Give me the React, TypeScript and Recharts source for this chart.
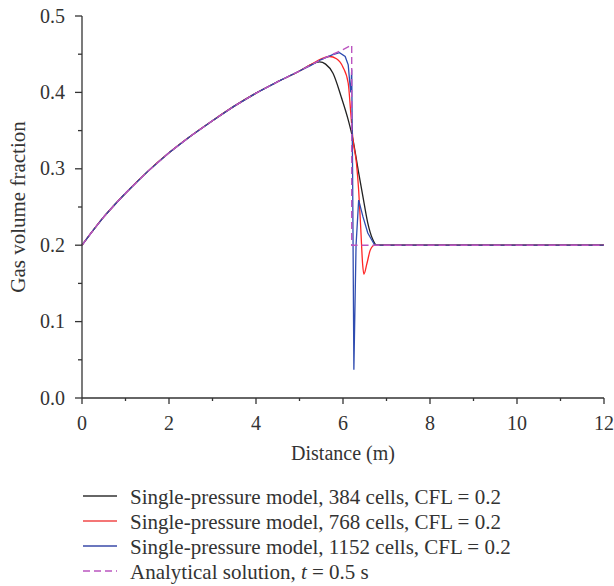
import React from "react";
import { LineChart, Line, XAxis, YAxis } from "recharts";

// shared rising part (all curves coincide up to x ~ 5)
const risingX = [0, 0.25, 0.5, 0.75, 1, 1.5, 2, 2.5, 3, 3.5, 4, 4.5, 5];
const risingY = [0.2, 0.219, 0.237, 0.253, 0.268, 0.296, 0.321, 0.343, 0.363, 0.382, 0.399, 0.414, 0.428];

// 384 cells
const blackX = [5.25, 5.46, 5.6, 5.77, 5.96, 6.12, 6.23, 6.35, 6.46, 6.57, 6.68, 6.77, 7, 12];
const blackY = [0.436, 0.44, 0.437, 0.425, 0.394, 0.364, 0.338, 0.298, 0.263, 0.229, 0.208, 0.2, 0.2, 0.2];

// 768 cells
const redX = [5.25, 5.5, 5.69, 5.85, 6.0, 6.12, 6.18, 6.23, 6.31, 6.36, 6.41, 6.45, 6.48, 6.55, 6.63, 6.73, 7, 12];
const redY = [0.436, 0.444, 0.447, 0.444, 0.433, 0.412, 0.372, 0.338, 0.307, 0.272, 0.22, 0.176, 0.162, 0.176, 0.194, 0.2, 0.2, 0.2];

// 1152 cells
const blueX = [5.25, 5.5, 5.75, 5.92, 6.05, 6.12, 6.16, 6.18, 6.2, 6.22, 6.25, 6.3, 6.36, 6.46, 6.57, 6.73, 7, 12];
const blueY = [0.435, 0.443, 0.449, 0.452, 0.447, 0.436, 0.41, 0.4, 0.43, 0.3, 0.037, 0.2, 0.259, 0.237, 0.216, 0.2, 0.2, 0.2];

// analytical solution, t = 0.5 s
const exactX = [5.5, 6, 6.2, 6.2, 12];
const exactY = [0.443, 0.456, 0.462, 0.2, 0.2];

const xTicks = [0, 1, 2, 3, 4, 5, 6, 7, 8, 9, 10, 11, 12];
const yTicks = [0, 0.05, 0.1, 0.15, 0.2, 0.25, 0.3, 0.35, 0.4, 0.45, 0.5];

const legendLabels = [
  "Single-pressure model, 384 cells, CFL = 0.2",
  "Single-pressure model, 768 cells, CFL = 0.2",
  "Single-pressure model, 1152 cells, CFL = 0.2",
];

const toPoints = (xs: number[], ys: number[]) => xs.map((x, i) => ({ x, y: ys[i] }));

const rising = toPoints(risingX, risingY);
const black = [...rising, ...toPoints(blackX, blackY)];
const red = [...rising, ...toPoints(redX, redY)];
const blue = [...rising, ...toPoints(blueX, blueY)];
const exact = [...rising, ...toPoints(exactX, exactY)];

const FONT = "Liberation Serif, Times New Roman, Tinos, DejaVu Serif, serif";
const AXIS = "#333";

function XTick(props: any) {
  const { x, y, payload } = props;
  const major = payload.value % 2 === 0;
  return (
    <g>
      <line x1={x} y1={y} x2={x} y2={y + (major ? 6 : 3)} stroke={AXIS} strokeWidth={1.3} />
      {major && (
        <text x={x} y={y + 32} textAnchor="middle" fontFamily={FONT} fontSize={20} fill={AXIS}>
          {payload.value}
        </text>
      )}
    </g>
  );
}

function YTick(props: any) {
  const { x, y, payload } = props;
  const major = Math.round(payload.value * 100) % 10 === 0;
  return (
    <g>
      <line x1={x} y1={y} x2={x - (major ? 7 : 4)} y2={y} stroke={AXIS} strokeWidth={1.3} />
      {major && (
        <text x={x - 17} y={y + 6.5} textAnchor="end" fontFamily={FONT} fontSize={20} fill={AXIS}>
          {payload.value.toFixed(1)}
        </text>
      )}
    </g>
  );
}

const XTitle = (props: any) => {
  const { viewBox } = props;
  return (
    <text x={viewBox.x + viewBox.width / 2} y={viewBox.y + 62} textAnchor="middle" fontFamily={FONT} fontSize={20} fill={AXIS}>
      Distance (m)
    </text>
  );
};

const YTitle = (props: any) => {
  const { viewBox } = props;
  const cx = 25;
  const cy = viewBox.y + viewBox.height / 2;
  return (
    <text x={cx} y={cy} transform={`rotate(-90, ${cx}, ${cy})`} textAnchor="middle" fontFamily={FONT} fontSize={21} fill={AXIS}>
      Gas volume fraction
    </text>
  );
};

const colors = ["#222222", "#ff2626", "#2f4cb0"];
const legendColors = ["#333333", "#f04848", "#3a4aa8"];
const EXACT = "#bb55c0";
const ROW0 = 46;
const ROW_GAP = 25;

export default function App() {
  return (
    <div style={{ position: "absolute", left: 0, top: 0, width: 614, height: 586, background: "#fff" }}>
      <LineChart width={614} height={470} margin={{ top: 16, right: 10, bottom: 0, left: 0 }}>
        <XAxis
          type="number"
          dataKey="x"
          domain={[0, 12]}
          ticks={xTicks}
          interval={0}
          height={72}
          stroke={AXIS}
          strokeWidth={1.3}
          tickLine={false}
          tickSize={0}
          tickMargin={0}
          tick={<XTick />}
          label={XTitle}
        />
        <YAxis
          type="number"
          dataKey="y"
          domain={[0, 0.5]}
          ticks={yTicks}
          interval={0}
          width={82}
          stroke={AXIS}
          strokeWidth={1.3}
          tickLine={false}
          tickSize={0}
          tickMargin={0}
          tick={<YTick />}
          label={YTitle}
        />
        <Line data={black} dataKey="y" type="monotone" stroke={colors[0]} strokeWidth={1.3} dot={false} isAnimationActive={false} />
        <Line data={red} dataKey="y" type="monotone" stroke={colors[1]} strokeWidth={1.3} dot={false} isAnimationActive={false} />
        <Line data={blue} dataKey="y" type="linear" stroke={colors[2]} strokeWidth={1.3} dot={false} isAnimationActive={false} />
        <Line data={exact} dataKey="y" type="linear" stroke={EXACT} strokeWidth={1.4} strokeDasharray="7 4" dot={false} isAnimationActive={false} />
      </LineChart>
      <svg width={614} height={136} style={{ position: "absolute", left: 0, top: 450 }}>
        {legendLabels.map((label, i) => (
          <g key={label}>
            <line x1={83} y1={ROW0 + i * ROW_GAP} x2={117} y2={ROW0 + i * ROW_GAP} stroke={legendColors[i]} strokeWidth={1.3} />
            <text x={130} y={ROW0 + 7.5 + i * ROW_GAP} fontFamily={FONT} fontSize={21} fill={AXIS}>
              {label}
            </text>
          </g>
        ))}
        <line x1={83} y1={ROW0 + 3 * ROW_GAP} x2={117} y2={ROW0 + 3 * ROW_GAP} stroke={EXACT} strokeWidth={1.4} strokeDasharray="7 4" />
        <text x={130} y={ROW0 + 7.5 + 3 * ROW_GAP} fontFamily={FONT} fontSize={21} fill={AXIS}>
          Analytical solution, <tspan fontStyle="italic">t</tspan> = 0.5 s
        </text>
      </svg>
    </div>
  );
}
